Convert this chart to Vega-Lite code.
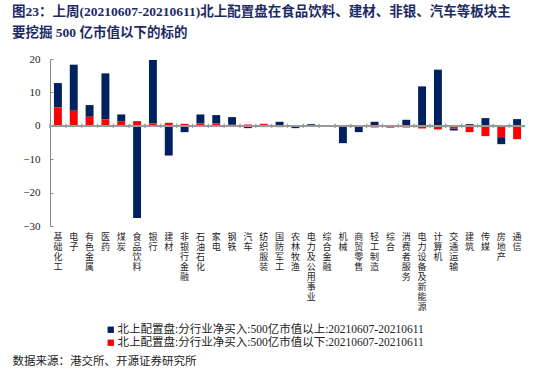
{
  "$schema": "https://vega.github.io/schema/vega-lite/v6.json",
  "width": 475,
  "height": 167,
  "autosize": {"type": "none"},
  "padding": {"left": 50, "top": 59, "right": 25, "bottom": 144},
  "title": {
    "text": ["图23：上周(20210607-20210611)北上配置盘在食品饮料、建材、非银、汽车等板块主", "要挖掘 500 亿市值以下的标的"],
    "anchor": "start",
    "frame": "group",
    "dx": -38,
    "dy": -10,
    "fontSize": 13.5,
    "fontWeight": "bold",
    "lineHeight": 21,
    "color": "#1c2a64",
    "font": "Liberation Serif, Noto Sans CJK SC"
  },
  "data": {
    "values": [
      {"cat": "基础化工", "series": "北上配置盘:分行业净买入:500亿市值以上:20210607-20210611", "v": 7.3},
      {"cat": "基础化工", "series": "北上配置盘:分行业净买入:500亿市值以下:20210607-20210611", "v": 5.5},
      {"cat": "电子", "series": "北上配置盘:分行业净买入:500亿市值以上:20210607-20210611", "v": 13.8},
      {"cat": "电子", "series": "北上配置盘:分行业净买入:500亿市值以下:20210607-20210611", "v": 4.5},
      {"cat": "有色金属", "series": "北上配置盘:分行业净买入:500亿市值以上:20210607-20210611", "v": 3.5},
      {"cat": "有色金属", "series": "北上配置盘:分行业净买入:500亿市值以下:20210607-20210611", "v": 2.7},
      {"cat": "医药", "series": "北上配置盘:分行业净买入:500亿市值以上:20210607-20210611", "v": 13.8},
      {"cat": "医药", "series": "北上配置盘:分行业净买入:500亿市值以下:20210607-20210611", "v": 1.9},
      {"cat": "煤炭", "series": "北上配置盘:分行业净买入:500亿市值以上:20210607-20210611", "v": 2.0},
      {"cat": "煤炭", "series": "北上配置盘:分行业净买入:500亿市值以下:20210607-20210611", "v": 1.4},
      {"cat": "食品饮料", "series": "北上配置盘:分行业净买入:500亿市值以上:20210607-20210611", "v": -27.6},
      {"cat": "食品饮料", "series": "北上配置盘:分行业净买入:500亿市值以下:20210607-20210611", "v": 1.4},
      {"cat": "银行", "series": "北上配置盘:分行业净买入:500亿市值以上:20210607-20210611", "v": 19.0},
      {"cat": "银行", "series": "北上配置盘:分行业净买入:500亿市值以下:20210607-20210611", "v": 0.7},
      {"cat": "建材", "series": "北上配置盘:分行业净买入:500亿市值以上:20210607-20210611", "v": -8.9},
      {"cat": "建材", "series": "北上配置盘:分行业净买入:500亿市值以下:20210607-20210611", "v": 0.9},
      {"cat": "非银行金融", "series": "北上配置盘:分行业净买入:500亿市值以上:20210607-20210611", "v": -1.9},
      {"cat": "非银行金融", "series": "北上配置盘:分行业净买入:500亿市值以下:20210607-20210611", "v": 0.6},
      {"cat": "石油石化", "series": "北上配置盘:分行业净买入:500亿市值以上:20210607-20210611", "v": 2.7},
      {"cat": "石油石化", "series": "北上配置盘:分行业净买入:500亿市值以下:20210607-20210611", "v": 0.7},
      {"cat": "家电", "series": "北上配置盘:分行业净买入:500亿市值以上:20210607-20210611", "v": 2.5},
      {"cat": "家电", "series": "北上配置盘:分行业净买入:500亿市值以下:20210607-20210611", "v": 0.7},
      {"cat": "钢铁", "series": "北上配置盘:分行业净买入:500亿市值以上:20210607-20210611", "v": 2.3},
      {"cat": "钢铁", "series": "北上配置盘:分行业净买入:500亿市值以下:20210607-20210611", "v": 0.3},
      {"cat": "汽车", "series": "北上配置盘:分行业净买入:500亿市值以上:20210607-20210611", "v": -0.7},
      {"cat": "汽车", "series": "北上配置盘:分行业净买入:500亿市值以下:20210607-20210611", "v": 0.4},
      {"cat": "纺织服装", "series": "北上配置盘:分行业净买入:500亿市值以上:20210607-20210611", "v": 0.1},
      {"cat": "纺织服装", "series": "北上配置盘:分行业净买入:500亿市值以下:20210607-20210611", "v": 0.5},
      {"cat": "国防军工", "series": "北上配置盘:分行业净买入:500亿市值以上:20210607-20210611", "v": 1.2},
      {"cat": "国防军工", "series": "北上配置盘:分行业净买入:500亿市值以下:20210607-20210611", "v": -0.4},
      {"cat": "农林牧渔", "series": "北上配置盘:分行业净买入:500亿市值以上:20210607-20210611", "v": -0.5},
      {"cat": "农林牧渔", "series": "北上配置盘:分行业净买入:500亿市值以下:20210607-20210611", "v": -0.2},
      {"cat": "电力及公用事业", "series": "北上配置盘:分行业净买入:500亿市值以上:20210607-20210611", "v": 0.5},
      {"cat": "电力及公用事业", "series": "北上配置盘:分行业净买入:500亿市值以下:20210607-20210611", "v": -0.3},
      {"cat": "综合金融", "series": "北上配置盘:分行业净买入:500亿市值以上:20210607-20210611", "v": 0.1},
      {"cat": "综合金融", "series": "北上配置盘:分行业净买入:500亿市值以下:20210607-20210611", "v": -0.3},
      {"cat": "机械", "series": "北上配置盘:分行业净买入:500亿市值以上:20210607-20210611", "v": -5.0},
      {"cat": "机械", "series": "北上配置盘:分行业净买入:500亿市值以下:20210607-20210611", "v": -0.2},
      {"cat": "商贸零售", "series": "北上配置盘:分行业净买入:500亿市值以上:20210607-20210611", "v": -1.6},
      {"cat": "商贸零售", "series": "北上配置盘:分行业净买入:500亿市值以下:20210607-20210611", "v": -0.3},
      {"cat": "轻工制造", "series": "北上配置盘:分行业净买入:500亿市值以上:20210607-20210611", "v": 1.2},
      {"cat": "轻工制造", "series": "北上配置盘:分行业净买入:500亿市值以下:20210607-20210611", "v": -0.5},
      {"cat": "综合", "series": "北上配置盘:分行业净买入:500亿市值以上:20210607-20210611", "v": -0.1},
      {"cat": "综合", "series": "北上配置盘:分行业净买入:500亿市值以下:20210607-20210611", "v": -0.5},
      {"cat": "消费者服务", "series": "北上配置盘:分行业净买入:500亿市值以上:20210607-20210611", "v": 1.8},
      {"cat": "消费者服务", "series": "北上配置盘:分行业净买入:500亿市值以下:20210607-20210611", "v": -0.5},
      {"cat": "电力设备及新能源", "series": "北上配置盘:分行业净买入:500亿市值以上:20210607-20210611", "v": 11.8},
      {"cat": "电力设备及新能源", "series": "北上配置盘:分行业净买入:500亿市值以下:20210607-20210611", "v": -0.8},
      {"cat": "计算机", "series": "北上配置盘:分行业净买入:500亿市值以上:20210607-20210611", "v": 16.8},
      {"cat": "计算机", "series": "北上配置盘:分行业净买入:500亿市值以下:20210607-20210611", "v": -1.1},
      {"cat": "交通运输", "series": "北上配置盘:分行业净买入:500亿市值以上:20210607-20210611", "v": -0.6},
      {"cat": "交通运输", "series": "北上配置盘:分行业净买入:500亿市值以下:20210607-20210611", "v": -0.8},
      {"cat": "建筑", "series": "北上配置盘:分行业净买入:500亿市值以上:20210607-20210611", "v": 0.5},
      {"cat": "建筑", "series": "北上配置盘:分行业净买入:500亿市值以下:20210607-20210611", "v": -1.9},
      {"cat": "传媒", "series": "北上配置盘:分行业净买入:500亿市值以上:20210607-20210611", "v": 2.3},
      {"cat": "传媒", "series": "北上配置盘:分行业净买入:500亿市值以下:20210607-20210611", "v": -3.1},
      {"cat": "房地产", "series": "北上配置盘:分行业净买入:500亿市值以上:20210607-20210611", "v": -2.1},
      {"cat": "房地产", "series": "北上配置盘:分行业净买入:500亿市值以下:20210607-20210611", "v": -3.4},
      {"cat": "通信", "series": "北上配置盘:分行业净买入:500亿市值以上:20210607-20210611", "v": 2.0},
      {"cat": "通信", "series": "北上配置盘:分行业净买入:500亿市值以下:20210607-20210611", "v": -4.0}
    ]
  },
  "layer": [
    {
      "mark": {"type": "bar"},
      "encoding": {
        "x": {
          "field": "cat",
          "type": "nominal",
          "sort": null,
          "scale": {"paddingInner": 0.5, "paddingOuter": 0.25},
          "axis": {
            "orient": "bottom",
            "domain": false,
            "ticks": false,
            "labelAngle": 0,
            "labelExpr": "split(datum.label, '')",
            "labelFontSize": 9,
            "labelLineHeight": 10,
            "labelBaseline": "top",
            "labelPadding": 6,
            "labelColor": "#222",
            "labelFont": "Noto Sans CJK SC",
            "labelOverlap": false,
            "title": "数据来源：港交所、开源证券研究所",
            "titleAnchor": "start",
            "titleAlign": "left",
            "titleBaseline": "middle",
            "titleX": -38,
            "titleY": 135,
            "titleFontSize": 11.5,
            "titleFontWeight": "normal",
            "titleColor": "#222",
            "titleFont": "Noto Sans CJK SC"
          }
        },
        "y": {
          "field": "v",
          "type": "quantitative",
          "stack": "zero",
          "scale": {"domain": [-30, 20], "nice": false},
          "axis": {"values": [20, 10, 0, -10, -20, -30], "title": null}
        },
        "color": {
          "field": "series",
          "type": "nominal",
          "scale": {
            "domain": ["北上配置盘:分行业净买入:500亿市值以上:20210607-20210611", "北上配置盘:分行业净买入:500亿市值以下:20210607-20210611"],
            "range": ["#002060", "#FF0000"]
          },
          "legend": {
            "orient": "none",
            "legendX": 55,
            "legendY": 265,
            "title": null,
            "symbolType": "square",
            "symbolSize": 40,
            "symbolStrokeWidth": 0,
            "labelFontSize": 11.5,
            "labelFont": "Liberation Serif, Noto Sans CJK SC",
            "labelColor": "#222",
            "labelOffset": 1,
            "labelLimit": 500,
            "rowPadding": 0,
            "padding": 0
          }
        },
        "order": {"field": "series", "sort": "descending"}
      }
    },
    {
      "mark": {"type": "rule", "color": "#999", "strokeWidth": 1},
      "encoding": {"y": {"datum": 0, "axis": {"values": [20, 10, 0, -10, -20, -30], "title": null}}}
    },
    {
      "mark": {"type": "rule", "color": "#999", "strokeWidth": 1},
      "encoding": {
        "x": {"field": "cat", "type": "nominal", "sort": null, "bandPosition": -0.5},
        "y": {"datum": -0.6, "axis": {"values": [20, 10, 0, -10, -20, -30], "title": null}},
        "y2": {"datum": 0.6}
      }
    }
  ],
  "config": {
    "view": {"stroke": null},
    "font": "Liberation Serif, Noto Sans CJK SC",
    "axisY": {
      "grid": false,
      "domain": true,
      "domainColor": "#888",
      "domainWidth": 1,
      "ticks": true,
      "tickColor": "#888",
      "tickSize": -3,
      "labelPadding": 13,
      "labelFontSize": 11,
      "labelColor": "#222",
      "labelFont": "Liberation Serif",
      "labelOverlap": false,
      "labelBound": false
    }
  }
}
